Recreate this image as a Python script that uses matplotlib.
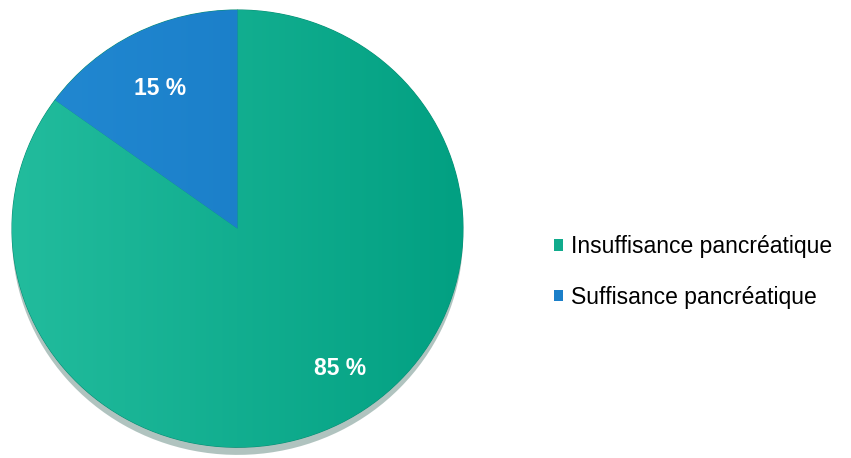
import numpy as np
import matplotlib.pyplot as plt
from matplotlib.colors import LinearSegmentedColormap

plt.rcParams['font.family'] = ['Liberation Sans', 'DejaVu Sans']

# donnees
labels = ['Insuffisance pancréatique', 'Suffisance pancréatique']
values = [85, 15]
pct_labels = ['85 %', '15 %']
colors = ['#10AB8C', '#1B7FC9']
grad_light = ['#22BC9D', '#2289D2']
grad_dark = ['#02A082', '#1577C2']

W, H = 851, 458
fig = plt.figure(figsize=(W / 100, H / 100), dpi=100)

# axe du camembert, en pixels: x 12..463, y 10..448
ax = fig.add_axes([12 / W, (H - 456) / H, 451 / W, 446 / H])
ax.axis('off')

# ombre sous le camembert
shadow, _ = ax.pie(values, radius=1.0, center=(0.0, -0.035), startangle=90,
                   counterclock=False, colors=['#9DB5B0'] * 2,
                   wedgeprops=dict(linewidth=0))
for s in shadow:
    s.set_alpha(0.8)

wedges, _ = ax.pie(values, radius=1.0, startangle=90, counterclock=False,
                   colors=colors, wedgeprops=dict(linewidth=0))

# degrade horizontal dans chaque part
grad = np.linspace(0, 1, 256).reshape(1, -1)
for w, c1, c2 in zip(wedges, grad_light, grad_dark):
    cmap = LinearSegmentedColormap.from_list('g', [c1, c2])
    im = ax.imshow(grad, cmap=cmap, extent=(-1, 1, -1, 1), aspect='auto',
                   zorder=w.get_zorder() + 0.1)
    im.set_clip_path(w)

# bord plus sombre
ax.pie(values, radius=1.0, startangle=90, counterclock=False,
       colors=['none'] * 2,
       wedgeprops=dict(linewidth=0.8, edgecolor='#0B8F76', fill=False))

# etiquettes des pourcentages
pct_pos = [(0.455, -0.64), (-0.344, 0.64)]
for txt, (x, y) in zip(pct_labels, pct_pos):
    ax.text(x, y, txt, ha='center', va='center', color='white',
            fontsize=16.5, fontweight='bold', zorder=10)

# le camembert est legerement ovale (perspective)
ax.set_aspect('auto')
ax.set_xlim(-1.0, 1.0)
ax.set_ylim(-1.04, 1.0)

leg = fig.legend(wedges, labels, loc='center left',
                 bbox_to_anchor=(533 / W, 1 - 272 / H), frameon=False,
                 fontsize=16.5, handlelength=0.4, handleheight=0.4,
                 handletextpad=0.35, labelspacing=1.2)

fig.savefig('out.png', dpi=100)
